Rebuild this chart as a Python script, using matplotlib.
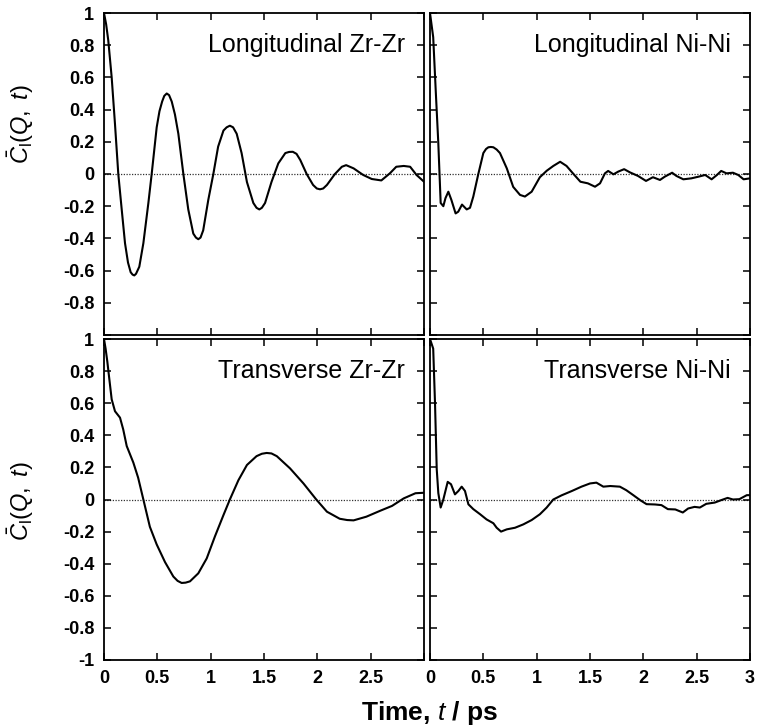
import numpy as np
import matplotlib
matplotlib.use("Agg")
import matplotlib.pyplot as plt

plt.rcParams['font.family'] = ['Liberation Sans', 'DejaVu Sans']
plt.rcParams['mathtext.fontset'] = 'custom'
plt.rcParams['mathtext.rm'] = 'Liberation Sans'
plt.rcParams['mathtext.it'] = 'Liberation Sans:italic'
plt.rcParams['mathtext.bf'] = 'Liberation Sans:bold'
plt.rcParams['axes.unicode_minus'] = False

# ---------------- data ----------------
long_zr_t = [0.0, 0.02, 0.04, 0.072, 0.103, 0.134, 0.166, 0.197, 0.225, 0.25, 0.268, 0.284, 0.30,
             0.331, 0.369, 0.416, 0.447, 0.494, 0.52, 0.545, 0.565, 0.588, 0.61, 0.635, 0.665,
             0.697, 0.744, 0.79, 0.837, 0.862, 0.884, 0.905, 0.93, 0.978,
             1.025, 1.07, 1.12, 1.15, 1.18, 1.21, 1.244, 1.29, 1.34, 1.40, 1.43, 1.456, 1.48,
             1.51, 1.57, 1.634, 1.70, 1.735, 1.77, 1.805, 1.84, 1.90, 1.96, 1.995, 2.025, 2.055,
             2.09, 2.165, 2.23, 2.27, 2.34, 2.43, 2.51, 2.60, 2.68, 2.74, 2.81, 2.87, 2.93, 3.0]
long_zr_v = [1.0, 0.93, 0.83, 0.60, 0.31, 0.0, -0.22, -0.43, -0.55, -0.61, -0.625, -0.63, -0.62,
             -0.576, -0.43, -0.18, 0.0, 0.29, 0.39, 0.45, 0.485, 0.50, 0.49, 0.45, 0.37,
             0.25, 0.0, -0.22, -0.37, -0.395, -0.405, -0.395, -0.35, -0.16,
             0.0, 0.17, 0.27, 0.29, 0.30, 0.29, 0.25, 0.13, -0.05, -0.18, -0.21, -0.22, -0.21,
             -0.18, -0.05, 0.066, 0.13, 0.137, 0.138, 0.125, 0.087, 0.0, -0.068, -0.09, -0.095, -0.09,
             -0.068, 0.0, 0.045, 0.055, 0.035, -0.006, -0.031, -0.04, 0.004, 0.045, 0.05, 0.045, -0.006, -0.048]

long_ni_t = [0.0, 0.03, 0.055, 0.078, 0.1, 0.125, 0.145, 0.172, 0.20, 0.24, 0.265, 0.30, 0.344,
             0.375, 0.406, 0.453, 0.50, 0.525, 0.547, 0.57, 0.594, 0.625, 0.656, 0.72, 0.78, 0.844,
             0.89, 0.953,
             1.03, 1.094, 1.156, 1.22, 1.28, 1.34, 1.41, 1.48, 1.547, 1.594, 1.64, 1.67, 1.72,
             1.765, 1.82, 1.875, 1.95, 2.025, 2.09, 2.156, 2.20, 2.27, 2.31, 2.375, 2.45, 2.515,
             2.58, 2.64, 2.69, 2.73, 2.78, 2.84, 2.89, 2.94, 3.0]
long_ni_v = [1.0, 0.85, 0.5, 0.19, -0.18, -0.20, -0.15, -0.11, -0.16, -0.245, -0.234, -0.19, -0.22,
             -0.21, -0.14, 0.0, 0.13, 0.155, 0.166, 0.168, 0.166, 0.152, 0.13, 0.035, -0.08, -0.13,
             -0.14, -0.11,
             -0.02, 0.02, 0.05, 0.076, 0.05, 0.004, -0.048, -0.058, -0.079, -0.058, 0.004, 0.019, -0.002,
             0.015, 0.03, 0.01, -0.012, -0.043, -0.02, -0.037, -0.017, 0.008, -0.012, -0.033, -0.027, -0.017,
             -0.006, -0.033, -0.006, 0.019, 0.004, 0.008, -0.006, -0.033, -0.027]

trans_zr_t = [0.0, 0.015, 0.031, 0.05, 0.072, 0.103, 0.15, 0.18, 0.213, 0.275, 0.32, 0.369, 0.43,
              0.494, 0.572, 0.65, 0.69, 0.728, 0.765, 0.806, 0.884, 0.963, 1.04, 1.12, 1.18, 1.26,
              1.34, 1.43, 1.48, 1.525, 1.57, 1.62, 1.744, 1.87, 1.99, 2.09, 2.21, 2.28, 2.34, 2.46,
              2.59, 2.70, 2.81, 2.92, 3.0]
trans_zr_v = [1.0, 0.94, 0.86, 0.75, 0.624, 0.55, 0.51, 0.437, 0.333, 0.23, 0.136, 0.0, -0.17,
              -0.28, -0.39, -0.48, -0.507, -0.52, -0.518, -0.51, -0.46, -0.367, -0.23, -0.097, 0.0, 0.12,
              0.215, 0.27, 0.285, 0.29, 0.287, 0.27, 0.194, 0.10, 0.0, -0.076, -0.12, -0.128, -0.13, -0.107,
              -0.07, -0.04, 0.007, 0.039, 0.042]

trans_ni_t = [0.0, 0.03, 0.047, 0.063, 0.078, 0.10, 0.125, 0.166, 0.197, 0.234, 0.266, 0.297,
              0.328, 0.36, 0.406, 0.47, 0.53, 0.594, 0.625, 0.666, 0.72, 0.797, 0.875, 0.953,
              1.03, 1.094, 1.156, 1.234, 1.33, 1.42, 1.5, 1.56, 1.625, 1.69, 1.78, 1.84, 1.906,
              1.97, 2.03, 2.11, 2.17, 2.23, 2.30, 2.37, 2.42, 2.48, 2.53, 2.59, 2.67, 2.73, 2.79,
              2.84, 2.90, 2.97, 3.0]
trans_ni_v = [1.0, 0.94, 0.60, 0.19, 0.04, -0.05, 0.0, 0.11, 0.095, 0.032, 0.053, 0.08,
              0.053, -0.03, -0.06, -0.092, -0.124, -0.148, -0.176, -0.20, -0.186, -0.176, -0.155, -0.128,
              -0.092, -0.05, 0.0, 0.026, 0.053, 0.08, 0.10, 0.105, 0.08, 0.084, 0.08, 0.058, 0.027,
              -0.004, -0.029, -0.031, -0.035, -0.06, -0.062, -0.081, -0.056, -0.046, -0.05, -0.027, -0.019, -0.004, 0.01,
              0.0, 0.002, 0.027, 0.027]

panel_titles = ["Longitudinal Zr-Zr", "Longitudinal Ni-Ni", "Transverse Zr-Zr", "Transverse Ni-Ni"]
x_ticks = [0, 0.5, 1, 1.5, 2, 2.5, 3]
x_ticklabels = ["0", "0.5", "1", "1.5", "2", "2.5", "3"]
y_ticks = [-1, -0.8, -0.6, -0.4, -0.2, 0, 0.2, 0.4, 0.6, 0.8, 1]
y_ticklabels = ["-1", "-0.8", "-0.6", "-0.4", "-0.2", "0", "0.2", "0.4", "0.6", "0.8", "1"]

series = [(long_zr_t, long_zr_v), (long_ni_t, long_ni_v),
          (trans_zr_t, trans_zr_v), (trans_ni_t, trans_ni_v)]

# ---------------- figure ----------------
W, H = 758, 727
fig = plt.figure(figsize=(W / 100, H / 100), dpi=100)

def frac(x0, x1, y0, y1):
    return [x0 / W, 1 - y1 / H, (x1 - x0) / W, (y1 - y0) / H]

rects = [frac(104, 424, 13, 335), frac(430, 750, 13, 335),
         frac(104, 424, 339, 660), frac(430, 750, 339, 660)]

tick_fs = 13
for i, (rect, (t, v), title) in enumerate(zip(rects, series, panel_titles)):
    ax = fig.add_axes(rect)
    ax.plot(t, v, color='black', lw=1.5, solid_joinstyle='round')
    ax.axhline(0, color='#333333', lw=0.9, ls=(0, (1, 1.2)), zorder=1)
    ax.set_xlim(0, 3)
    ax.set_ylim(-1, 1)
    for s in ax.spines.values():
        s.set_linewidth(1.3)
    ax.tick_params(direction='in', length=5, width=1.1, top=True, right=True,
                   labelsize=tick_fs, pad=7)
    ax.set_xticks(x_ticks)
    ax.set_yticks(y_ticks)
    row, col = divmod(i, 2)
    if row == 1:
        xl = list(x_ticklabels)
        if col == 0:
            xl[-1] = ""
        ax.set_xticklabels(xl, fontweight='bold')
    else:
        ax.set_xticklabels([])
    if col == 0:
        yl = list(y_ticklabels)
        if row == 0:
            yl[0] = ""
        ax.set_yticklabels(yl, fontweight='bold')
        ax.set_ylabel(r'$\bar{C}_{\mathrm{l}}(Q,\ t)$', fontsize=17)
        ax.yaxis.set_label_coords(-0.2125, 0.655 if row == 0 else 0.495)
    else:
        ax.set_yticklabels([])
    ax.text(0.94, 0.90, title, transform=ax.transAxes, ha='right', va='center',
            fontsize=18)

fig.text(430 / W, 1 - 713 / H, r'Time, $\mathbf{\mathit{t}}$ / ps', ha='center', va='center',
         fontsize=19, fontweight='bold')

fig.savefig('out.png', dpi=100)
